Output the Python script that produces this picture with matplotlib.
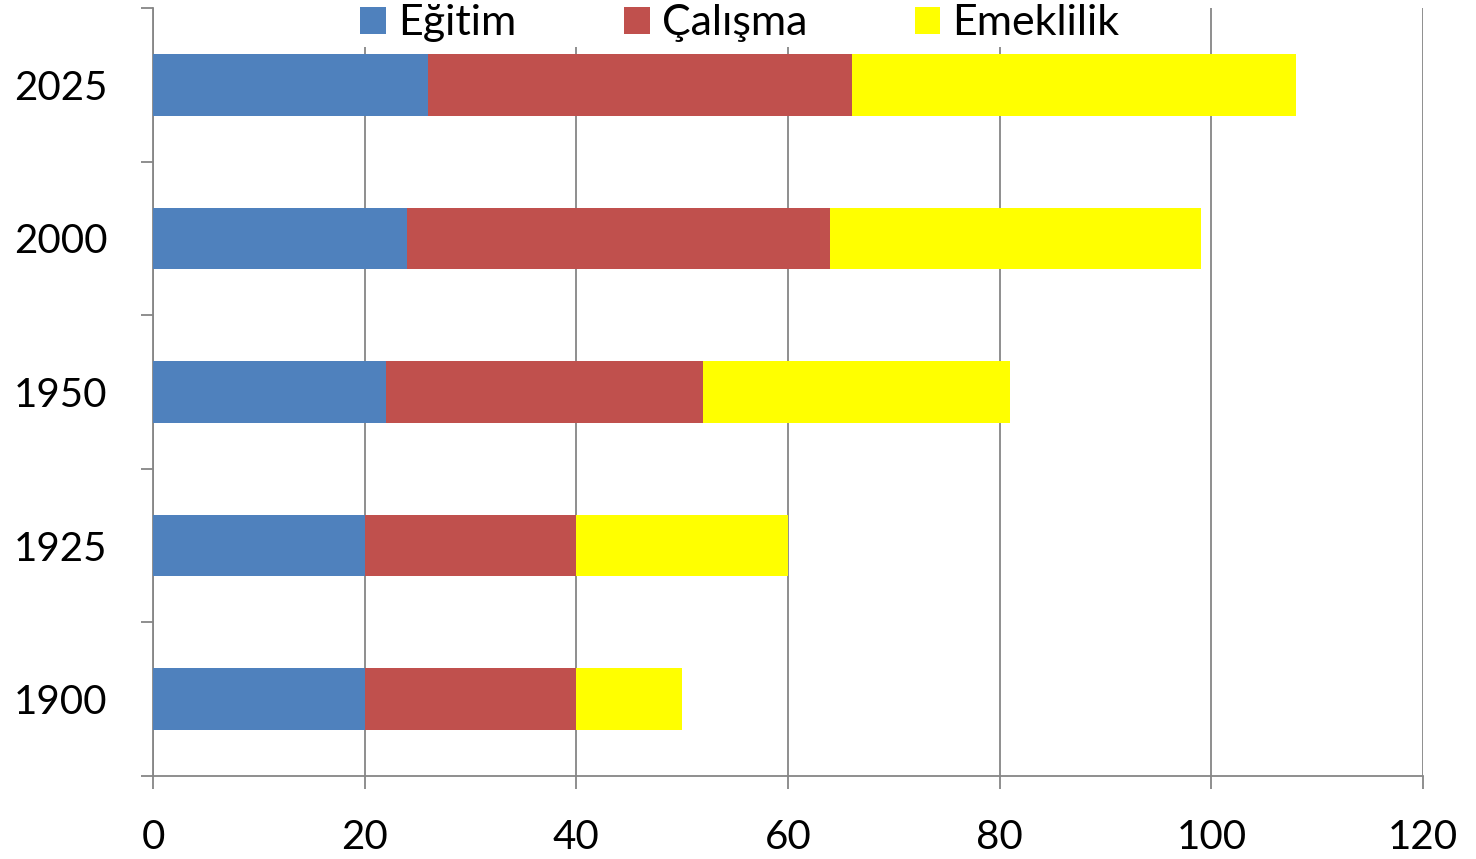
import matplotlib.pyplot as plt
from matplotlib.ticker import MultipleLocator, FixedLocator

plt.rcParams['font.family'] = ['Lato', 'DejaVu Sans']

years = ['1900', '1925', '1950', '2000', '2025']
egitim = [20, 20, 22, 24, 26]
calisma = [20, 20, 30, 40, 40]
emeklilik = [10, 20, 29, 35, 42]

fig = plt.figure(figsize=(14.76, 8.59), dpi=100)
ax = fig.add_axes([153 / 1476, 1 - 776 / 859, (1423 - 153) / 1476, 768 / 859])

pos = range(len(years))
left2 = [a + b for a, b in zip(egitim, calisma)]
ax.barh(pos, egitim, height=0.4, color='#4F81BD', label='Eğitim', zorder=3)
ax.barh(pos, calisma, left=egitim, height=0.4, color='#C0504D', label='Çalışma', zorder=3)
ax.barh(pos, emeklilik, left=left2, height=0.4, color='#FFFF00', label='Emeklilik', zorder=3)

ax.set_xlim(0, 120)
ax.set_ylim(-0.5, len(years) - 0.5)
ax.xaxis.set_major_locator(MultipleLocator(20))
ax.set_yticks(list(pos))
ax.set_yticklabels(years)
ax.yaxis.set_minor_locator(FixedLocator([i - 0.5 for i in range(len(years) + 1)]))

ax.grid(axis='x', color='#868686', linewidth=1.3, zorder=0)
for s in ['top', 'right']:
    ax.spines[s].set_visible(False)
for s in ['left', 'bottom']:
    ax.spines[s].set_color('#868686')
    ax.spines[s].set_linewidth(1.3)

ax.tick_params(axis='y', which='major', length=0, labelsize=29, pad=33)
ax.tick_params(axis='y', which='minor', length=9, color='#868686', width=1.3)
ax.tick_params(axis='x', length=9, color='#868686', width=1.3, labelsize=29, pad=22)

leg = ax.legend(loc='center', bbox_to_anchor=(0.462, 0.98), ncol=3, frameon=True,
                fontsize=31, handlelength=0.6, handleheight=0.6, handletextpad=0.28,
                columnspacing=2.5, borderpad=0.1, borderaxespad=0, fancybox=False,
                facecolor='white', edgecolor='none', framealpha=1)
leg.set_zorder(10)

fig.savefig('out.png', dpi=100)
